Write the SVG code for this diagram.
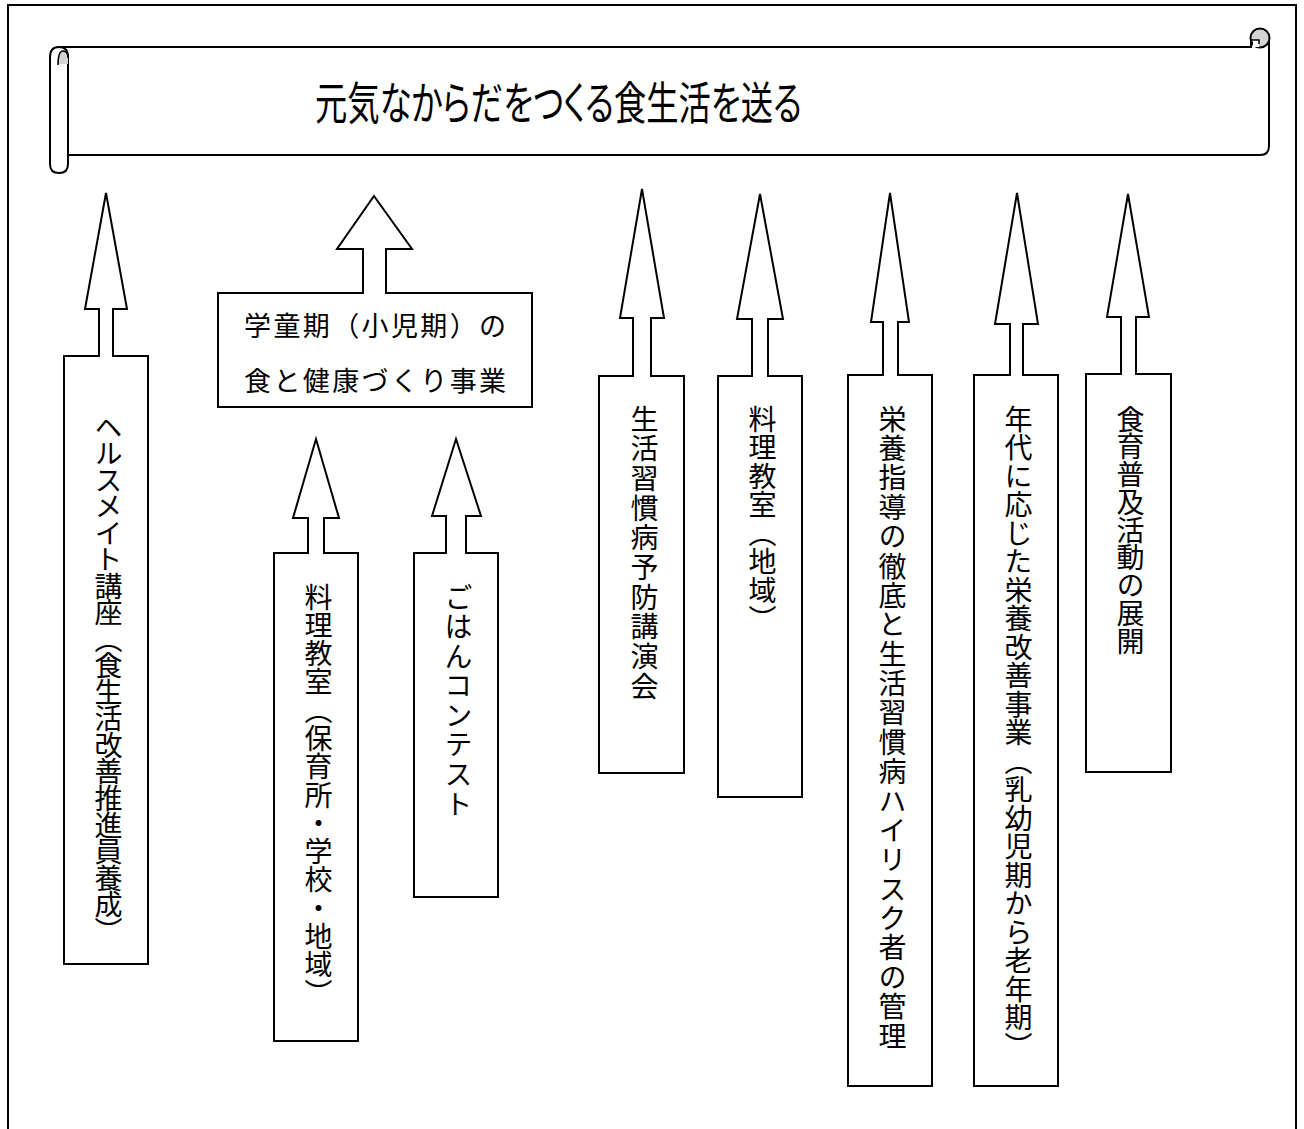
<svg xmlns="http://www.w3.org/2000/svg" width="1304" height="1129" viewBox="0 0 1304 1129">
<style>
.ln{fill:#fff;stroke:#000;stroke-width:2;stroke-linejoin:miter}
.vt{font-family:"Liberation Serif","Noto Sans CJK JP",serif;font-size:28px;writing-mode:vertical-rl;fill:#000}
.ht{font-family:"Liberation Serif","Noto Sans CJK JP",serif;font-size:27px;fill:#000}
.tt{font-family:"Noto Sans CJK JP",sans-serif;font-size:45px;fill:#000;font-feature-settings:"palt"}
</style>
<rect width="1304" height="1129" fill="#fff"/>
<rect x="8" y="5" width="1288" height="1140" fill="none" stroke="#000" stroke-width="2"/>

<g id="title">
  <path class="ln" d="M58,47 L1251,47 L1251,40 L1269,40 L1269,146 Q1269,155 1260,155 L68,155 Z"/>
  <circle cx="1260" cy="38" r="9.5" fill="#d4d4d4" stroke="#000" stroke-width="2"/>
  <path d="M1253,40 L1259,40 L1259,47 L1253,47 Z" fill="#fff" stroke="none"/>
  <path d="M1251,47 L1251,40 L1259,40 L1259,44" fill="none" stroke="#000" stroke-width="1.5"/>
  <path class="ln" d="M50,57 Q50,47 59,47 Q68,47 68,57 L68,164 Q68,173 59,173 Q50,173 50,164 Z"/>
  <path d="M58,64 Q58,52 63,51 Q68,52 68,58 L68,64 Z" fill="#d4d4d4" stroke="none"/>
  <path d="M58,65 Q58,51 63,51 Q68,51 68,58" fill="none" stroke="#000" stroke-width="1.5"/>
  <text class="tt" x="315" y="120" textLength="487" lengthAdjust="spacingAndGlyphs">元気なからだをつくる食生活を送る</text>
</g>

<g id="n1">
  <path class="ln" d="M106,193 L127,309 L113,309 L113,356 L148,356 L148,964 L64,964 L64,356 L99,356 L99,309 L85,309 Z"/>
  <text class="vt" x="106" y="413" textLength="532" lengthAdjust="spacing">ヘルスメイト講座（食生活改善推進員養成）</text>
</g>

<g id="n2">
  <path class="ln" d="M374,196 L412,249 L386,249 L386,293 L532,293 L532,407 L218,407 L218,293 L363,293 L363,249 L337,249 Z"/>
  <text class="ht" x="244" y="336" textLength="262" lengthAdjust="spacing">学童期（小児期）の</text>
  <text class="ht" x="244" y="391" textLength="262" lengthAdjust="spacing">食と健康づくり事業</text>
</g>

<g id="n3">
  <path class="ln" d="M316,439 L339,518 L324,518 L324,553 L358,553 L358,1041 L274,1041 L274,553 L308,553 L308,518 L293,518 Z"/>
  <text class="vt" x="316" y="583" textLength="424" lengthAdjust="spacing">料理教室（保育所・学校・地域）</text>
</g>

<g id="n4">
  <path class="ln" d="M456,439 L481,516 L466,516 L466,553 L498,553 L498,897 L414,897 L414,553 L446,553 L446,516 L432,516 Z"/>
  <text class="vt" x="456" y="583" textLength="235" lengthAdjust="spacing">ごはんコンテスト</text>
</g>

<g id="n5">
  <path class="ln" d="M642,189 L664,318 L651,318 L651,376 L684,376 L684,773 L599,773 L599,376 L633,376 L633,318 L620,318 Z"/>
  <text class="vt" x="642" y="405" textLength="295" lengthAdjust="spacing">生活習慣病予防講演会</text>
</g>

<g id="n6">
  <path class="ln" d="M760,194 L783,319 L768,319 L768,376 L802,376 L802,797 L718,797 L718,376 L752,376 L752,319 L737,319 Z"/>
  <text class="vt" x="760" y="405" textLength="228" lengthAdjust="spacing">料理教室（地域）</text>
</g>

<g id="n7">
  <path class="ln" d="M890,193 L909,322 L898,322 L898,375 L932,375 L932,1086 L848,1086 L848,375 L883,375 L883,322 L871,322 Z"/>
  <text class="vt" x="890" y="405" textLength="645" lengthAdjust="spacing">栄養指導の徹底と生活習慣病ハイリスク者の管理</text>
</g>

<g id="n8">
  <path class="ln" d="M1017,193 L1038,324 L1023,324 L1023,375 L1058,375 L1058,1086 L974,1086 L974,375 L1010,375 L1010,324 L995,324 Z"/>
  <text class="vt" x="1016" y="405" textLength="655" lengthAdjust="spacing">年代に応じた栄養改善事業（乳幼児期から老年期）</text>
</g>

<g id="n9">
  <path class="ln" d="M1128,194 L1149,317 L1136,317 L1136,374 L1171,374 L1171,772 L1086,772 L1086,374 L1121,374 L1121,317 L1107,317 Z"/>
  <text class="vt" x="1128" y="405" textLength="250" lengthAdjust="spacing">食育普及活動の展開</text>
</g>

<g id="connectors"></g>
</svg>
